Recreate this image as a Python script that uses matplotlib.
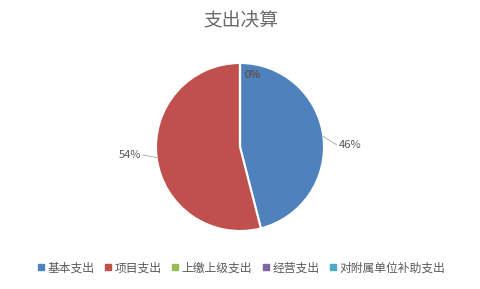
import numpy as np
import matplotlib
matplotlib.use('Agg')
import matplotlib.pyplot as plt
from matplotlib.lines import Line2D

plt.rcParams['font.family'] = ['Noto Sans CJK SC', 'DejaVu Sans']

categories = ['基本支出', '项目支出', '上缴上级支出', '经营支出', '对附属单位补助支出']
values = [46, 54, 0, 0, 0]
colors = ['#4F81BD', '#C0504D', '#9BBB59', '#8064A2', '#4BACC6']
grey = '#595959'

fig = plt.figure(figsize=(4.81, 2.89), dpi=100)
cx, cy, r = 240, 147, 84
ax = fig.add_axes([(cx - r) / 481, (289 - cy - r) / 289, 2 * r / 481, 2 * r / 289])
wedges, _ = ax.pie(values, colors=colors, startangle=90, counterclock=False,
                   wedgeprops=dict(edgecolor='white', linewidth=1.5))
ax.set_xlim(-1, 1)
ax.set_ylim(-1, 1)
ax.set_aspect('equal')

total = sum(values)
for w, v in zip(wedges, values):
    pct = '{:.0f}%'.format(100 * v / total)
    ang = np.deg2rad((w.theta1 + w.theta2) / 2)
    if v == 0:
        # zero slices: label sits just inside the top edge
        ax.text(0.15, 0.86, pct, color=grey, fontsize=8, ha='center', va='center')
        continue
    x0, y0 = np.cos(ang), np.sin(ang)
    side = 1 if x0 > 0 else -1
    tx = 1.16 * x0
    ty = y0 - 0.1 if side > 0 else y0 + 0.03
    ax.plot([x0, tx], [y0, ty], color='#A6A6A6', lw=0.6, clip_on=False)
    ax.text(tx + side * 0.03, ty, pct, color=grey, fontsize=8,
            ha='left' if side > 0 else 'right', va='center')

fig.text(0.5, 1 - 21 / 289, '支出决算', ha='center', va='center', fontsize=13.5, color='#6b6b6b')

handles = [Line2D([], [], marker='s', linestyle='', color=c, markersize=5) for c in colors]
fig.legend(handles, categories, loc='center', bbox_to_anchor=(0.5, 1 - 268 / 289), ncol=5,
           frameon=False, fontsize=8.5, labelcolor=grey, handletextpad=0.1, columnspacing=0.7,
           handlelength=0.9)

fig.savefig('out.png', dpi=100, facecolor='white')
